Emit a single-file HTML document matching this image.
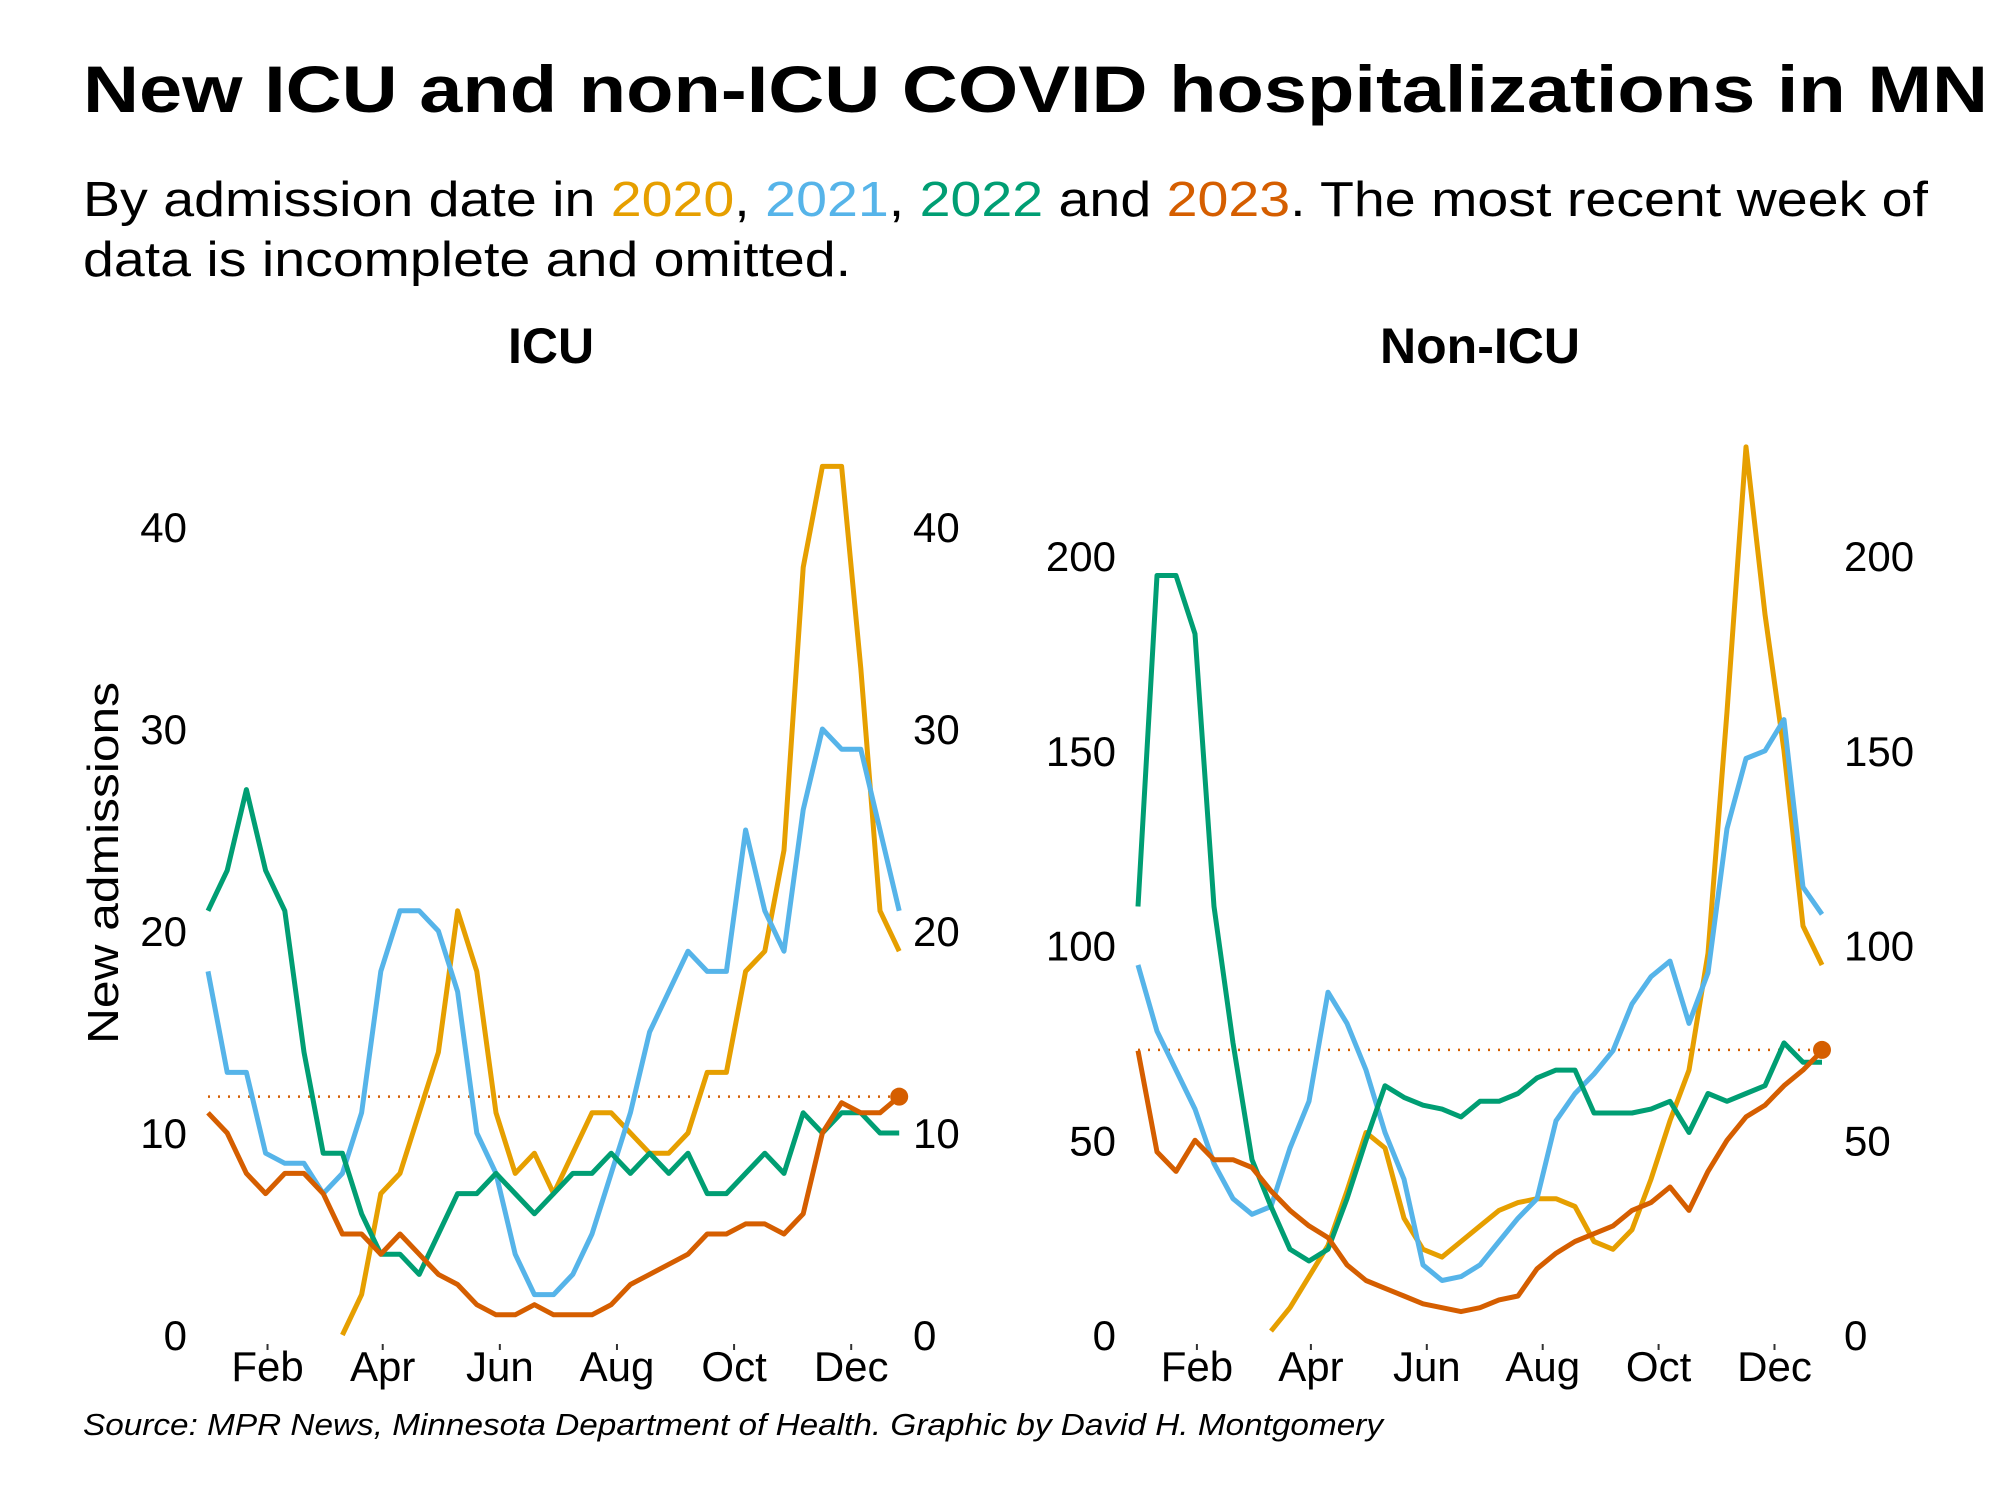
<!DOCTYPE html>
<html><head><meta charset="utf-8">
<style>
html,body{margin:0;padding:0;background:#fff;}
svg{display:block;font-family:"Liberation Sans",Arial,sans-serif;}
</style></head>
<body>
<svg id="chart" width="2000" height="1500" viewBox="0 0 2000 1500">
<text x="83" y="112" font-size="66" font-weight="bold" textLength="1905" lengthAdjust="spacingAndGlyphs">New ICU and non-ICU COVID hospitalizations in MN</text>
<text x="83" y="216" font-size="49" textLength="1845" lengthAdjust="spacingAndGlyphs">By admission date in <tspan fill="#E69F00">2020</tspan>, <tspan fill="#56B4E9">2021</tspan>, <tspan fill="#009E73">2022</tspan> and <tspan fill="#D55E00">2023</tspan>. The most recent week of</text>
<text x="83" y="276" font-size="49" textLength="768" lengthAdjust="spacingAndGlyphs">data is incomplete and omitted.</text>
<text x="551" y="363" font-size="50" font-weight="bold" text-anchor="middle">ICU</text>
<text x="1480" y="363" font-size="50" font-weight="bold" text-anchor="middle">Non-ICU</text>
<text transform="translate(118,863) rotate(-90)" font-size="44" text-anchor="middle" textLength="362" lengthAdjust="spacingAndGlyphs">New admissions</text>
<text x="83" y="1435" font-size="31" font-style="italic" textLength="1300" lengthAdjust="spacingAndGlyphs">Source: MPR News, Minnesota Department of Health. Graphic by David H. Montgomery</text>
<g id="icu"></g>
<g id="nonicu"></g>
</svg>
<script>
const days = [0,10,20,30,40,50,60,70,80,90,100,110,120,130,140,150,160,170,180,190,200,210,220,230,240,250,260,270,280,290,300,310,320,330,340,350,360];
const monthLabels = ["Feb","Apr","Jun","Aug","Oct","Dec"];
const monthDays = [31,91,152,213,274,335];
const icuTicks = [0,10,20,30,40];
const nonIcuTicks = [0,50,100,150,200];
const years = ["2020","2021","2022","2023"];
const colors = ["#E69F00","#56B4E9","#009E73","#D55E00"];
const icu2020 = [null,null,null,null,null,null,null,0,2,7,8,11,14,21,18,11,8,9,7,9,11,11,10,9,9,10,13,13,18,19,24,38,43,43,33,21,19];
const icu2021 = [18,13,13,9,8.5,8.5,7,8,11,18,21,21,20,17,10,8,4,2,2,3,5,8,11,15,17,19,18,18,25,21,19,26,30,29,29,25,21];
const icu2022 = [21,23,27,23,21,14,9,9,6,4,4,3,5,7,7,8,7,6,7,8,8,9,8,9,8,9,7,7,8,9,8,11,10,11,11,10,10];
const icu2023 = [11,10,8,7,8,8,7,5,5,4,5,4,3,2.5,1.5,1,1,1.5,1,1,1,1.5,2.5,3,3.5,4,5,5,5.5,5.5,5,6,10,11.5,11,11,11.8];
const icuRef = 11.8;
const non2020 = [null,null,null,null,null,null,null,1,7,15,23,37,52,48,30,22,20,24,28,32,34,35,35,33,24,22,27,40,55,68,98,160,228,185,150,105,95];
const non2021 = [95,78,68,58,44,35,31,33,48,60,88,80,68,52,40,18,14,15,18,24,30,35,55,62,67,73,85,92,96,80,93,130,148,150,158,115,108];
const non2022 = [110,195,195,180,110,75,45,33,22,19,22,35,50,64,61,59,58,56,60,60,62,66,68,68,57,57,57,58,60,52,62,60,62,64,75,70,70];
const non2023 = [73,47,42,50,45,45,43,37,32,28,25,18,14,12,10,8,7,6,7,9,10,17,21,24,26,28,32,34,38,32,42,50,56,59,64,68,73];
const nonRef = 73.2;

const NS = "http://www.w3.org/2000/svg";
function mk(tag, attrs, parent){
  const el = document.createElementNS(NS, tag);
  for (const k in attrs) el.setAttribute(k, attrs[k]);
  parent.appendChild(el);
  return el;
}
function panel(g, cfg, series, ticks, ref, prefix){
  const xs = d => cfg.x0 + d * cfg.pxDay;
  const ys = v => cfg.y0 - v * cfg.pxUnit;
  ticks.forEach(t => {
    const l = mk("text", {x: cfg.leftLab, y: ys(t) + 15, "font-size": 42, "text-anchor": "end"}, g);
    
    
    l.textContent = t;
    const r = mk("text", {x: cfg.rightLab, y: ys(t) + 15, "font-size": 42}, g);
    
    
    r.textContent = t;
  });
  monthLabels.forEach((m, i) => {
    const x = xs(monthDays[i]);
    const tk = mk("line", {x1: x, x2: x, y1: 1344, y2: 1350, stroke: "#333", "stroke-width": 2}, g);
    
    
    const t = mk("text", {x: x, y: 1381, "font-size": 42, "text-anchor": "middle"}, g);
    
    
    t.textContent = m;
  });
  const rl = mk("line", {x1: xs(0), x2: xs(360), y1: ys(ref), y2: ys(ref), stroke: "#D55E00", "stroke-width": 2.5, "stroke-dasharray": "2 8"}, g);
  
  
  series.forEach((vals, si) => {
    let d = "";
    let pen = false;
    vals.forEach((v, i) => {
      if (v === null) { pen = false; return; }
      d += (pen ? "L" : "M") + xs(days[i]).toFixed(1) + "," + ys(v).toFixed(1);
      pen = true;
    });
    const p = mk("path", {d: d, fill: "none", stroke: colors[si], "stroke-width": 5, "stroke-linejoin": "round"}, g);
    
    
  });
  const c = mk("circle", {cx: xs(360), cy: ys(ref), r: 9, fill: "#D55E00"}, g);
  
  
}
panel(document.getElementById("icu"), {x0: 208, pxDay: 1.92, y0: 1335, pxUnit: 20.2, leftLab: 187, rightLab: 913},
  [icu2020, icu2021, icu2022, icu2023], icuTicks, icuRef, "icu");
panel(document.getElementById("nonicu"), {x0: 1138, pxDay: 1.9, y0: 1335, pxUnit: 3.895, leftLab: 1116, rightLab: 1844},
  [non2020, non2021, non2022, non2023], nonIcuTicks, nonRef, "non-icu");
</script>
</body></html>
